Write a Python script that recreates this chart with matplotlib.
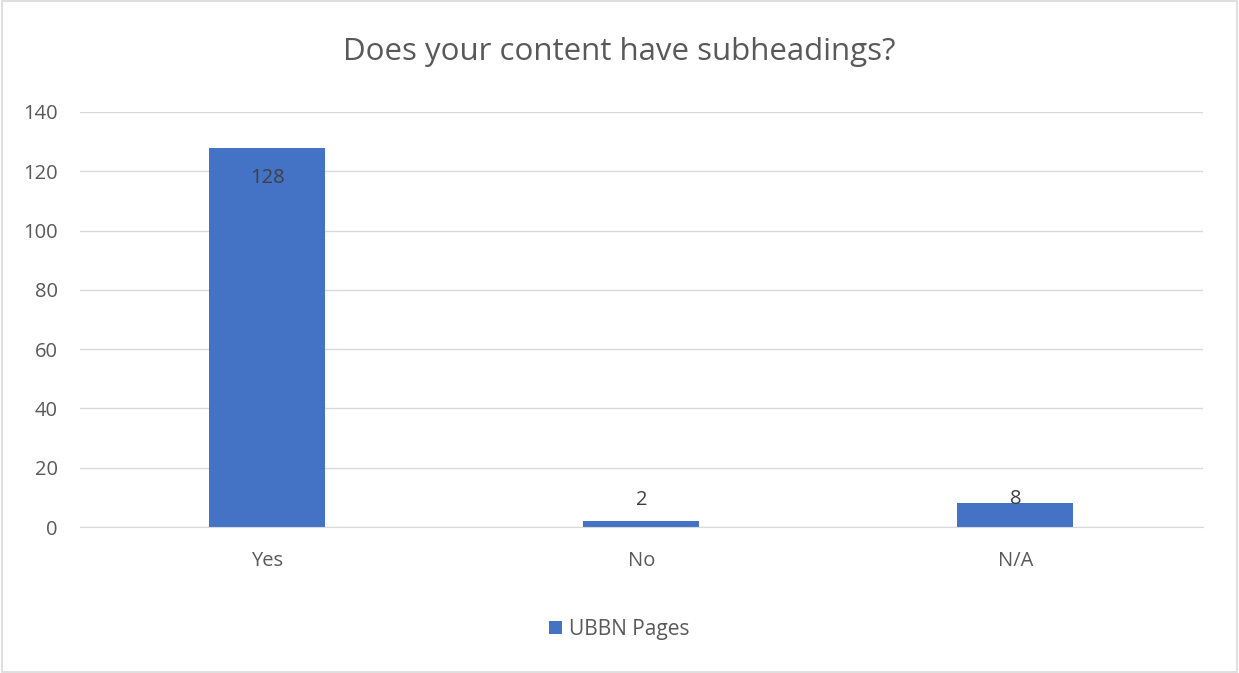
import matplotlib.pyplot as plt
from matplotlib.patches import Rectangle

categories = ["Yes", "No", "N/A"]
pages = [128, 2, 8]
label_offsets = [-22, 15, 3]  # points, where Excel drew each data label

plt.rcParams['font.family'] = ['Open Sans', 'DejaVu Sans']

fig = plt.figure(figsize=(12.39, 6.73), dpi=100)
ax = fig.add_axes([0.0646, 0.2169, 0.906, 0.6167])

bar_color = "#4472c4"
text_color = "#595959"

x = range(len(categories))
ax.bar(x, pages, width=0.31, color=bar_color, label="UBBN Pages", zorder=2)

for xi, v, off in zip(x, pages, label_offsets):
    ax.annotate(str(v), (xi, v), xytext=(0, off), textcoords="offset points",
                ha="center", va="center", fontsize=14.5, color="#404040", zorder=3)

ax.set_xlim(-0.5, 2.5)
ax.set_ylim(0, 140)
ax.set_yticks(range(0, 141, 20))
ax.set_xticks(list(x))
ax.set_xticklabels(categories)
ax.yaxis.grid(True, color="#d9d9d9", linewidth=1, zorder=0)
ax.tick_params(axis="both", length=0, labelsize=14.5, labelcolor=text_color)
ax.tick_params(axis="x", pad=17)
ax.tick_params(axis="y", pad=16)
for side in ["top", "right", "left"]:
    ax.spines[side].set_visible(False)
ax.spines["bottom"].set_color("#d9d9d9")

fig.suptitle("Does your content have subheadings?", y=0.945, fontsize=22.5, color=text_color)

fig.legend(loc="center", bbox_to_anchor=(0.5, 0.065), frameon=False,
           fontsize=15, labelcolor=text_color, handlelength=0.6, handleheight=0.6,
           handletextpad=0.35)

fig.patches.append(Rectangle((0.002, 0.002), 0.996, 0.996, transform=fig.transFigure,
                             fill=False, edgecolor="#d9d9d9", linewidth=1.2))

fig.savefig("out.png", dpi=100)
